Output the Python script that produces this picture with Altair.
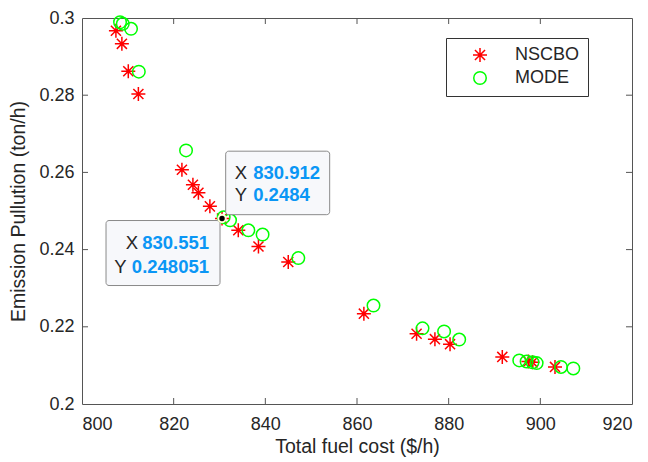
import altair as alt
import pandas as pd

# ---- data ----
nscbo_cost = [807.4, 808.7, 810.1, 812.3, 821.8, 824.2, 825.4, 827.9, 830.551, 834.1,
              838.5, 845.0, 861.5, 873.0, 877.0, 880.3, 891.7, 897.4, 898.3, 903.2]
nscbo_emis = [0.2967, 0.2933, 0.2862, 0.2803, 0.2607, 0.2568, 0.2547, 0.2512, 0.248051, 0.2450,
              0.2408, 0.2368, 0.2234, 0.2182, 0.2168, 0.2155, 0.2122, 0.2110, 0.2108, 0.2096]
mode_cost = [808.3, 808.9, 810.7, 812.4, 822.7, 830.912, 832.3, 836.3, 839.4, 847.2,
             863.6, 874.3, 879.0, 882.3, 895.4, 897.0, 898.3, 899.2, 904.5, 907.2]
mode_emis = [0.2989, 0.2985, 0.2972, 0.2861, 0.2657, 0.2484, 0.2476, 0.2450, 0.2439, 0.2378,
             0.2255, 0.2196, 0.2188, 0.2167, 0.2113, 0.2110, 0.2108, 0.2106, 0.2096, 0.2092]
series_names = ["NSCBO", "MODE"]

x_ticks = [800, 820, 840, 860, 880, 900, 920]
y_ticks = [0.2, 0.22, 0.24, 0.26, 0.28, 0.3]

tip_lower = {"x": 830.551, "y": 0.248051, "xs": "830.551", "ys": "0.248051"}
tip_upper = {"x": 830.912, "y": 0.2484, "xs": "830.912", "ys": "0.2484"}

FONT = "Liberation Sans"
W, H = 550, 386
STAR = "M0,-1L0,1M-1,0L1,0M-0.72,-0.72L0.72,0.72M-0.72,0.72L0.72,-0.72"

pts = pd.DataFrame(
    [{"cost": c, "emis": e, "series": "NSCBO"} for c, e in zip(nscbo_cost, nscbo_emis)]
    + [{"cost": c, "emis": e, "series": "MODE"} for c, e in zip(mode_cost, mode_emis)]
)

xs = alt.Scale(domain=[800, 920], nice=False, zero=False)
ys = alt.Scale(domain=[0.2, 0.3], nice=False, zero=False)

X = alt.X("cost:Q", scale=xs,
          axis=alt.Axis(values=x_ticks, title="Total fuel cost ($/h)", ticks=False, domain=False,
                        grid=False, labelPadding=11, titlePadding=4, labelFontSize=18,
                        titleFontSize=19.5, labelColor="#262626", titleColor="#262626",
                        labelFont=FONT, titleFont=FONT, titleFontWeight="normal"))
Y = alt.Y("emis:Q", scale=ys,
          axis=alt.Axis(values=y_ticks, format=".2~f", title="Emission Pullution (ton/h)",
                        ticks=False, domain=False, grid=False, labelPadding=8, titlePadding=10,
                        labelFontSize=18, titleFontSize=19.5, labelColor="#262626",
                        titleColor="#262626", labelFont=FONT, titleFont=FONT,
                        titleFontWeight="normal"))

points = alt.Chart(pts).mark_point(filled=False, strokeWidth=1.5, opacity=1).encode(
    x=X, y=Y,
    shape=alt.Shape("series:N", scale=alt.Scale(domain=series_names, range=[STAR, "circle"]),
                    legend=alt.Legend(title=None, orient="none", legendX=364, legendY=20,
                                      padding=8, rowPadding=3, symbolOffset=17,
                                      labelOffset=26, labelFontSize=18, labelFont=FONT,
                                      labelColor="#262626", symbolSize=169,
                                      symbolStrokeWidth=1.5, strokeColor="#333333",
                                      fillColor="white", symbolType="circle")),
    color=alt.Color("series:N", scale=alt.Scale(domain=series_names, range=["#FF0000", "#00FF00"]),
                    legend=alt.Legend(title=None, orient="none", legendX=364, legendY=20)),
    size=alt.Size("series:N", scale=alt.Scale(domain=series_names, range=[196, 156]), legend=None),
)

# inward ticks on all four sides
xt = pd.DataFrame({"t": x_ticks[1:-1]})
yt = pd.DataFrame({"t": y_ticks[1:-1]})
tick_col = "#555555"
xb = alt.Chart(xt).mark_rule(color=tick_col, strokeWidth=1).encode(
    x=alt.X("t:Q", scale=xs), y=alt.value(H), y2=alt.value(H - 6))
xtop = alt.Chart(xt).mark_rule(color=tick_col, strokeWidth=1).encode(
    x=alt.X("t:Q", scale=xs), y=alt.value(0), y2=alt.value(6))
yl = alt.Chart(yt).mark_rule(color=tick_col, strokeWidth=1).encode(
    y=alt.Y("t:Q", scale=ys), x=alt.value(0), x2=alt.value(6))
yr = alt.Chart(yt).mark_rule(color=tick_col, strokeWidth=1).encode(
    y=alt.Y("t:Q", scale=ys), x=alt.value(W), x2=alt.value(W - 6))

# data tips
up = pd.DataFrame([tip_upper])
lo = pd.DataFrame([tip_lower])

TX = alt.X("x:Q", scale=xs)
TY = alt.Y("y:Q", scale=ys)

box_style = dict(fill="#F7F8FB", stroke="#8A8A8A", strokeWidth=1, cornerRadius=3)
box_up = alt.Chart(up).mark_rect(xOffset=2, x2Offset=106, yOffset=-66, y2Offset=-2.5,
                                 **box_style).encode(x=TX, x2="x:Q", y=TY, y2="y:Q")
box_lo = alt.Chart(lo).mark_rect(xOffset=-116, x2Offset=-2, yOffset=2, y2Offset=67,
                                 **box_style).encode(x=TX, x2="x:Q", y=TY, y2="y:Q")

dot = alt.Chart(lo).mark_point(filled=True, fill="black", stroke="#FFFFD8", strokeWidth=2,
                               size=55, opacity=1, shape="circle").encode(x=TX, y=TY)

TS = 18.5
BLUE = "#0A96F5"
lab = dict(font=FONT, fontSize=TS, color="#262626")
val = dict(font=FONT, fontSize=TS, color=BLUE, fontWeight="bold")

up_xl = alt.Chart(up).mark_text(align="left", dx=11, dy=-38, baseline="alphabetic", **lab).encode(
    x=TX, y=TY, text=alt.value("X"))
up_yl = alt.Chart(up).mark_text(align="left", dx=11, dy=-16, baseline="alphabetic", **lab).encode(
    x=TX, y=TY, text=alt.value("Y"))
up_xv = alt.Chart(up).mark_text(align="left", dx=29.5, dy=-38, baseline="alphabetic", **val).encode(
    x=TX, y=TY, text="xs:N")
up_yv = alt.Chart(up).mark_text(align="left", dx=29.5, dy=-16, baseline="alphabetic", **val).encode(
    x=TX, y=TY, text="ys:N")

lo_xl = alt.Chart(lo).mark_text(align="right", dx=-84, dy=30, baseline="alphabetic", **lab).encode(
    x=TX, y=TY, text=alt.value("X"))
lo_yl = alt.Chart(lo).mark_text(align="right", dx=-95.5, dy=54, baseline="alphabetic", **lab).encode(
    x=TX, y=TY, text=alt.value("Y"))
lo_xv = alt.Chart(lo).mark_text(align="right", dx=-13, dy=30, baseline="alphabetic", **val).encode(
    x=TX, y=TY, text="xs:N")
lo_yv = alt.Chart(lo).mark_text(align="right", dx=-13, dy=54, baseline="alphabetic", **val).encode(
    x=TX, y=TY, text="ys:N")

chart = alt.layer(
    xb, xtop, yl, yr, points, box_up, box_lo, dot,
    up_xl, up_yl, up_xv, up_yv, lo_xl, lo_yl, lo_xv, lo_yv,
).properties(
    width=W, height=H,
    autosize=alt.AutoSizeParams(type="none"),
    padding={"left": 74, "top": 10, "right": 8, "bottom": 56},
    background="white",
).configure_view(stroke="#555555", strokeWidth=1)

chart.save("out.html", embed_options={"renderer": "svg", "actions": False})
